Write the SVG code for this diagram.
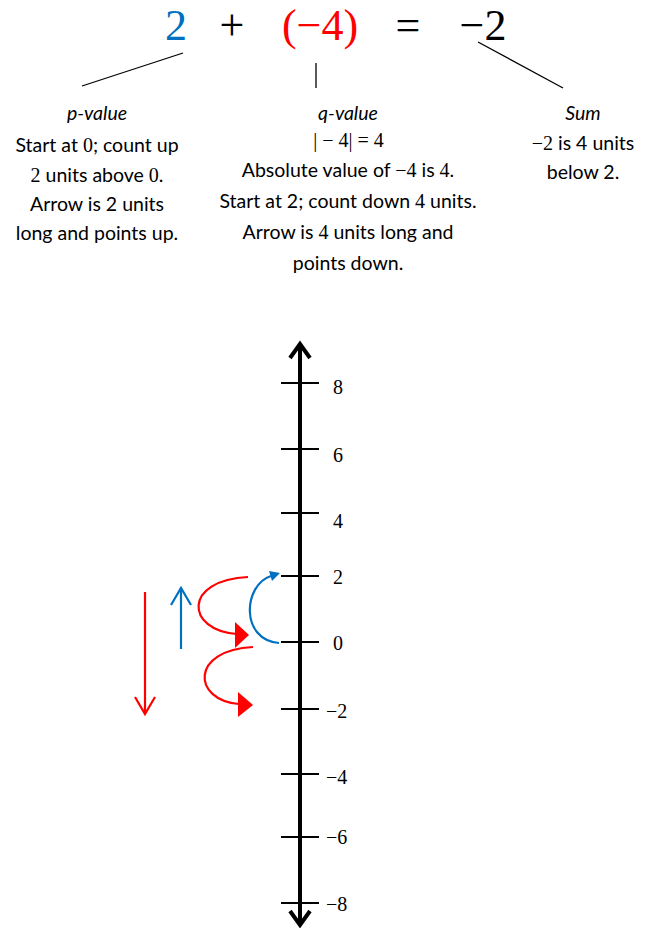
<svg xmlns="http://www.w3.org/2000/svg" width="652" height="928" viewBox="0 0 652 928">
<style>
.eq{font-family:"Liberation Serif","DejaVu Serif",serif;font-size:44px;text-anchor:middle}
.t{font-family:Lato,"Open Sans",sans-serif;font-size:19.5px;text-anchor:middle;fill:#000}
.h{font-style:italic}
.m{font-family:"Liberation Serif","DejaVu Serif",serif;font-size:20px}
.lbl{font-family:"Liberation Serif","DejaVu Serif",serif;font-size:20px;fill:#000}
.ln{stroke:#000;stroke-width:1.3;fill:none}
.tick{stroke:#000;stroke-width:2}
.ax{stroke:#000;stroke-width:4;fill:none}
.red{stroke:#ff0000;stroke-width:2.2;fill:none}
.blue{stroke:#0070c0;stroke-width:2.2;fill:none}
.redf{fill:#ff0000}
.bluef{fill:#0070c0}
</style>
<rect width="652" height="928" fill="#fff"/>
<g id="equation">
<text class="eq" x="176" y="40" fill="#0070c0">2</text>
<text class="eq" x="232" y="40" fill="#000">+</text>
<text class="eq" x="320" y="40" fill="#ff0000">(−4)</text>
<text class="eq" x="408" y="40" fill="#000">=</text>
<text class="eq" x="483" y="40" fill="#000">−2</text>
</g>
<g id="connectors">
<line class="ln" x1="183" y1="53" x2="82" y2="86"/>
<line class="ln" x1="316" y1="63" x2="316" y2="88"/>
<line class="ln" x1="478" y1="42" x2="563" y2="88"/>
</g>
<g id="p-value">
<text class="t h" x="97" y="120">p-value</text>
<text class="t" x="97" y="152">Start at <tspan class="m">0</tspan>; count up</text>
<text class="t" x="97" y="182"><tspan class="m">2</tspan> units above <tspan class="m">0</tspan>.</text>
<text class="t" x="97" y="211">Arrow is 2 units</text>
<text class="t" x="97" y="240">long and points up.</text>
</g>
<g id="q-value">
<text class="t h" x="348" y="120">q-value</text>
<text class="t m" x="348.5" y="147" fill="#000">| − 4| = 4</text>
<text class="t" x="348" y="177">Absolute value of <tspan class="m">−4</tspan> is <tspan class="m">4</tspan>.</text>
<text class="t" x="348" y="208">Start at 2; count down <tspan class="m">4</tspan> units.</text>
<text class="t" x="348" y="239">Arrow is <tspan class="m">4</tspan> units long and</text>
<text class="t" x="348" y="270">points down.</text>
</g>
<g id="sum">
<text class="t h" x="583" y="120">Sum</text>
<text class="t" x="583" y="150"><tspan class="m">−2</tspan> is 4 units</text>
<text class="t" x="583" y="179">below 2.</text>
</g>
<g id="number-line">
<line class="ax" x1="300" y1="346" x2="300" y2="923"/>
<polyline class="ax" points="290,358 300,344 310,358"/>
<polyline class="ax" points="290,911 300,925 310,911"/>
<line class="tick" x1="281" y1="383" x2="319" y2="383"/>
<line class="tick" x1="281" y1="449" x2="319" y2="449"/>
<line class="tick" x1="281" y1="513" x2="319" y2="513"/>
<line class="tick" x1="281" y1="576" x2="319" y2="576"/>
<line class="tick" x1="281" y1="642" x2="319" y2="642"/>
<line class="tick" x1="281" y1="709" x2="319" y2="709"/>
<line class="tick" x1="281" y1="774" x2="319" y2="774"/>
<line class="tick" x1="281" y1="837" x2="319" y2="837"/>
<line class="tick" x1="281" y1="903" x2="319" y2="903"/>
<text class="lbl" x="333" y="394">8</text>
<text class="lbl" x="333" y="462">6</text>
<text class="lbl" x="333" y="528">4</text>
<text class="lbl" x="333" y="584">2</text>
<text class="lbl" x="333" y="650">0</text>
<text class="lbl" x="326" y="718">−2</text>
<text class="lbl" x="326" y="784">−4</text>
<text class="lbl" x="326" y="844">−6</text>
<text class="lbl" x="326" y="911">−8</text>
</g>
<g id="q-arrow">
<line class="red" x1="145" y1="592" x2="145" y2="714"/>
<polyline class="red" points="135,697 145,714 155,697"/>
</g>
<g id="p-arrow">
<line class="blue" x1="181" y1="649" x2="181" y2="588"/>
<polyline class="blue" points="171,605 181,588 191,605"/>
</g>
<g id="blue-jump">
<path class="blue" d="M279,643 C 240,640 243,585 271,576"/>
<polygon class="bluef" points="280,573 272,581 269,571"/>
</g>
<g id="red-jump-1">
<path class="red" d="M248,577 C 183,580 185,630 237,634"/>
<polygon class="redf" points="235,622 249,635 235,648"/>
</g>
<g id="red-jump-2">
<path class="red" d="M253,647 C 190,650 192,700 239,704"/>
<polygon class="redf" points="238,692 253,705 238,717"/>
</g>
</svg>
